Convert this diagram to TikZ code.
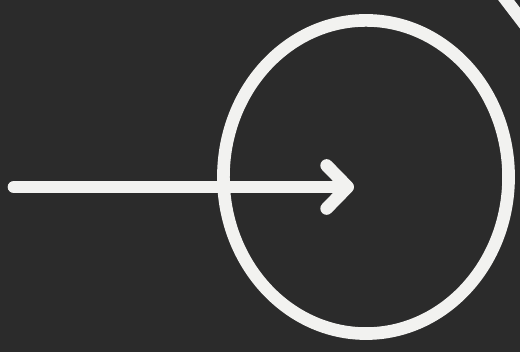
\documentclass[tikz,border=0pt]{standalone}
\usepackage{xcolor}
\usepackage{tikz}
\usetikzlibrary{arrows.meta, shapes.geometric}

\definecolor{board}{HTML}{2B2B2B}
\definecolor{chalk}{HTML}{F2F2F0}

\begin{document}
\begin{tikzpicture}[
  x=0.01cm, y=-0.01cm,
  chalkline/.style={draw=chalk, line width=3.6pt, line cap=round, line join=round},
  ring/.style={chalkline, ellipse, inner sep=0pt, minimum width=2.85cm, minimum height=3.13cm},
  chalkarr/.style={chalkline, -{Straight Barb[length=2.1mm, width=4.3mm, round]}},
]
\fill[board] (0,0) rectangle (520,352);
\useasboundingbox (0,0) rectangle (520,352);
\clip (0,0) rectangle (520,352);

\node[ring] (target) at (366,177) {};
\coordinate (start) at (14,187);
\coordinate (tip) at (354,187);

\draw[chalkarr] (start) -- (tip);

% edge of the next figure
\draw[chalkline] (500,-8) -- (526,26);
\end{tikzpicture}
\end{document}
